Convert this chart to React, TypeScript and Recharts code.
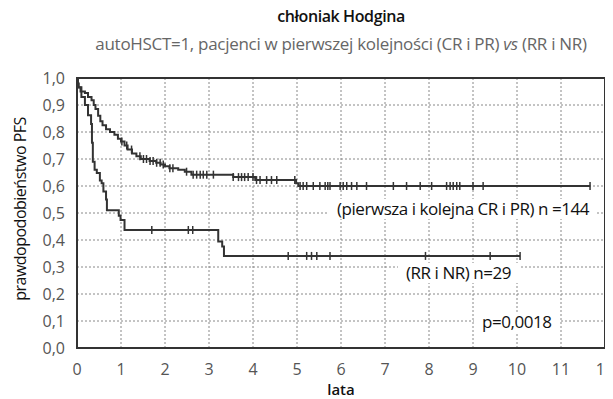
import * as React from 'react'
import {
  ComposedChart, Line, Scatter, XAxis, YAxis, CartesianGrid,
} from 'recharts'

// (pierwsza i kolejna CR i PR), n = 144
const upperTimes = [0, 0.02, 0.04, 0.08, 0.18, 0.25, 0.33, 0.38, 0.42, 0.48, 0.53, 0.58, 0.66, 0.75, 0.85,
  0.93, 1.0, 1.08, 1.15, 1.25, 1.35, 1.45, 1.65, 1.8, 1.9, 2.0, 2.1, 2.3, 2.45, 2.6, 3.55, 4.05, 4.98, 5.03, 11.66]
const upperSurv = [1.0, 0.98, 0.965, 0.95, 0.944, 0.93, 0.918, 0.9, 0.885, 0.86, 0.84, 0.825, 0.81, 0.8, 0.79,
  0.775, 0.765, 0.75, 0.735, 0.72, 0.71, 0.7, 0.693, 0.686, 0.68, 0.673, 0.666, 0.66, 0.653, 0.642, 0.633, 0.622, 0.61, 0.6, 0.6]
const upperCensored = [1.02, 1.13, 1.24, 1.43, 1.51, 1.58, 1.66, 1.73, 1.81, 1.89, 1.96, 2.11, 2.18, 2.49, 2.64,
  2.72, 2.8, 2.87, 2.95, 3.1, 3.55, 3.67, 3.74, 3.81, 3.89, 4.0, 4.08, 4.16, 4.31, 4.42, 4.54, 4.95, 5.07, 5.14,
  5.22, 5.37, 5.52, 5.64, 5.7, 5.75, 5.98, 6.05, 6.13, 6.24, 6.36, 6.58, 7.19, 7.49, 7.8, 8.06, 8.4, 8.48, 8.55,
  8.63, 8.7, 9.0, 9.23, 11.66]

// (RR i NR), n = 29
const lowerTimes = [0, 0.02, 0.1, 0.18, 0.25, 0.32, 0.34, 0.36, 0.4, 0.45, 0.52, 0.56, 0.6, 0.66, 0.68, 0.95,
  0.99, 1.08, 3.21, 3.3, 3.34, 10.07]
const lowerSurv = [1.0, 0.966, 0.93, 0.9, 0.862, 0.83, 0.76, 0.69, 0.66, 0.648, 0.62, 0.61, 0.58, 0.55, 0.51, 0.49,
  0.474, 0.437, 0.394, 0.376, 0.341, 0.341]
const lowerCensored = [1.7, 2.53, 2.63, 4.8, 5.22, 5.33, 5.45, 5.75, 7.92, 9.39, 10.07]

const xTicks = [0, 1, 2, 3, 4, 5, 6, 7, 8, 9, 10, 11, 12]
const yTicks = [0, 0.1, 0.2, 0.3, 0.4, 0.5, 0.6, 0.7, 0.8, 0.9, 1.0]

const toSteps = (times: number[], surv: number[]) => times.map((t, i) => ({ t, s: surv[i] }))

const survAt = (times: number[], surv: number[], t: number) => {
  let s = surv[0]
  times.forEach((ti, i) => { if (ti <= t + 1e-9) s = surv[i] })
  return s
}

const upperSteps = toSteps(upperTimes, upperSurv)
const lowerSteps = toSteps(lowerTimes, lowerSurv)
const upperMarks = upperCensored.map((t) => ({ t, s: survAt(upperTimes, upperSurv, t) }))
const lowerMarks = lowerCensored.map((t) => ({ t, s: survAt(lowerTimes, lowerSurv, t) }))

const INK = '#333'
const GRID = '#888'

const CensorTick = (props: any) => {
  const { cx, cy } = props
  if (cx == null || cy == null) return null
  return <line x1={cx} x2={cx} y1={cy - 4} y2={cy + 4} stroke={INK} strokeWidth={1.5} />
}

const note: React.CSSProperties = {
  position: 'absolute',
  background: '#fff',
  color: '#111',
  fontSize: 17,
  lineHeight: '20px',
  letterSpacing: -0.45,
  whiteSpace: 'nowrap',
  padding: '0 8px',
}

export default function App() {
  return (
    <div style={{
      position: 'relative', width: 613, height: 399, margin: '-8px 0 0 -8px',
      background: '#fff', fontFamily: '"Open Sans", sans-serif', overflow: 'hidden',
    }}
    >
      <ComposedChart width={613} height={399} data={upperSteps} margin={{ top: 78, right: 8, bottom: 21, left: 27 }}>
        <CartesianGrid stroke={GRID} strokeDasharray="2 2" />
        <XAxis
          type="number"
          dataKey="t"
          domain={[0, 12]}
          ticks={xTicks}
          allowDataOverflow
          tickLine={false}
          axisLine={false}
          tickMargin={10}
          tick={{ fill: '#555', fontSize: 16 }}
        />
        <YAxis
          type="number"
          domain={[0, 1]}
          ticks={yTicks}
          width={50}
          tickLine={false}
          axisLine={false}
          tickMargin={6}
          tick={{ fill: '#555', fontSize: 16 }}
          tickFormatter={(v: number) => v.toFixed(1).replace('.', ',')}
        />
        <Line data={upperSteps} dataKey="s" type="stepAfter" stroke={INK} strokeWidth={2} dot={false} isAnimationActive={false} />
        <Line data={lowerSteps} dataKey="s" type="stepAfter" stroke={INK} strokeWidth={2} dot={false} isAnimationActive={false} />
        <Scatter data={upperMarks} dataKey="s" shape={CensorTick} isAnimationActive={false} />
        <Scatter data={lowerMarks} dataKey="s" shape={CensorTick} isAnimationActive={false} />
      </ComposedChart>

      {/* plot frame */}
      <div style={{
        position: 'absolute', left: 76, top: 77, width: 526, height: 268,
        border: `2px solid ${INK}`, pointerEvents: 'none',
      }}
      />

      <div style={{
        position: 'absolute', left: 141, width: 400, top: 6, textAlign: 'center',
        fontSize: 16, fontWeight: 600, color: '#111', letterSpacing: -0.4, lineHeight: '20px',
      }}
      >
        chłoniak Hodgina
      </div>
      <div style={{
        position: 'absolute', left: 41, width: 600, top: 34, textAlign: 'center',
        fontSize: 17, color: '#666', letterSpacing: -0.3, lineHeight: '20px',
      }}
      >
        autoHSCT=1, pacjenci w pierwszej kolejności (CR i PR) <i>vs</i> (RR i NR)
      </div>
      <div style={{
        position: 'absolute', left: 20 - 110, top: 209 - 10, width: 220, lineHeight: '20px',
        textAlign: 'center', transform: 'rotate(-90deg)', fontSize: 16, color: '#111', letterSpacing: -0.5,
      }}
      >
        prawdopodobieństwo PFS
      </div>
      <div style={{
        position: 'absolute', left: 291, width: 100, top: 381, textAlign: 'center',
        fontSize: 15, fontWeight: 600, color: '#111', lineHeight: '16px',
      }}
      >
        lata
      </div>
      <div style={{ ...note, left: 329, top: 199 }}>(pierwsza i kolejna CR i PR) n =144</div>
      <div style={{ ...note, left: 398, top: 263 }}>(RR i NR) n=29</div>
      <div style={{ ...note, left: 474, top: 312 }}>p=0,0018</div>
    </div>
  )
}
